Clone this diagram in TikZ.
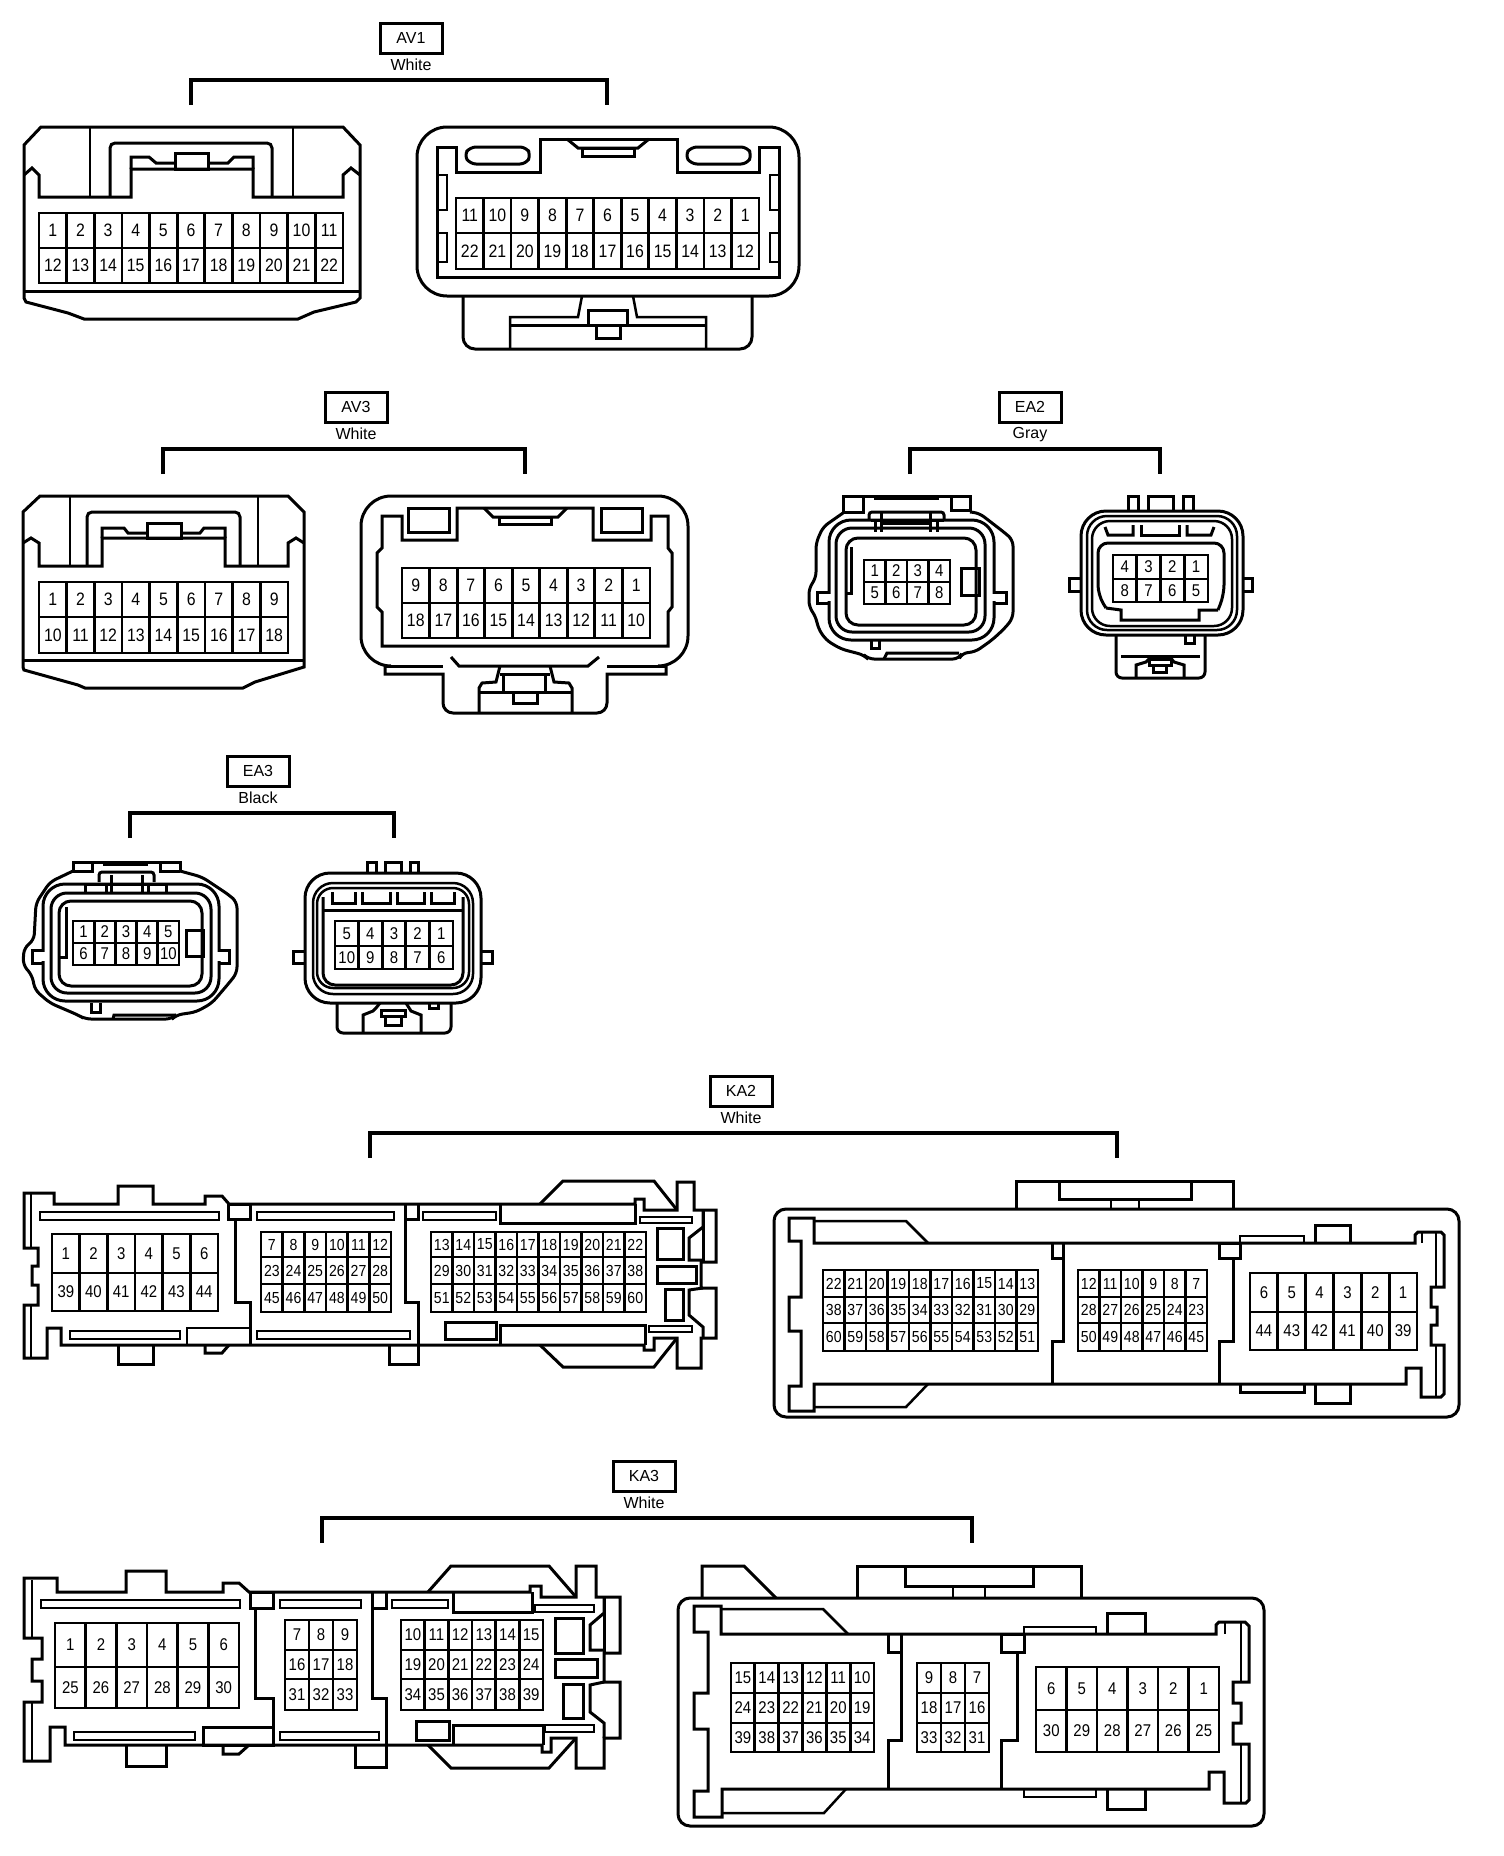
\documentclass[tikz,border=0pt]{standalone}
\usepackage{fontspec}
\setmainfont{Liberation Sans}
\newfontfamily\pinfont[FakeStretch=0.88]{Liberation Sans}
\usepackage{tikz}
\usetikzlibrary{positioning}

\tikzset{
  wall/.style={line width=3pt},
  thin wall/.style={line width=2.5pt},
  pinline/.style={line width=2.8pt},
  bracket/.style={line width=3.2pt},
  pin/.style={inner sep=0pt, font=\pinfont\fontsize{#1}{#1}\selectfont},
  pin/.default=18,
  tagbox/.style={draw, line width=3pt, minimum width=62pt, minimum height=30pt, inner sep=0pt, font=\fontsize{16}{16}\selectfont},
  tagtext/.style={inner sep=0pt, font=\fontsize{16}{16}\selectfont},
}

% name, x0, y0, x1, y1, cells, first number, step, font size
\newcommand{\pinrow}[9]{
  \draw[pinline] (#2,#3) rectangle (#4,#5);
  \pgfmathsetmacro{\cy}{(#3+#5)/2}
  \foreach \i in {1,...,#6} {
    \pgfmathsetmacro{\cx}{#2+(#4-#2)*(\i-0.5)/#6}
    \pgfmathsetmacro{\dx}{#2+(#4-#2)*\i/#6}
    \pgfmathtruncatemacro{\lab}{#7+(\i-1)*(#8)}
    \node[pin=#9] (#1-\lab) at (\cx,\cy) {\lab};
    \ifnum\i<#6 \draw[pinline] (\dx,#3) -- (\dx,#5);\fi
  }
}

% name, text, colour, centre x, box centre y, bracket left, bracket right
\newcommand{\conntag}[7]{
  \node[tagbox] (#1) at (#4,#5) {#2};
  \node[tagtext, below=4pt of #1] (#1c) {#3};
  \pgfmathsetmacro{\by}{#5+67}
  \coordinate (#1l) at (#6,\by);
  \coordinate (#1r) at (#7,\by);
  \draw[bracket] (#1l) -- ++(0,-25) -| (#1r);
}

\begin{document}
\begin{tikzpicture}[x=1pt, y=-1pt]

  \fill[white] (0,0) rectangle (1504,1856);
  \useasboundingbox (0,0) rectangle (1504,1856);

  % AV1
  \conntag{av1}{AV1}{White}{411}{38}{191}{607}

  \draw[wall] (41,127) -- (343,127) -- (360,145) -- (360,298) -- (356,302) -- (314,312) -- (298,319) -- (84,319) -- (68,313) -- (26,302) -- (24,298) -- (24,145) -- cycle;
  \draw[wall] (24,291) -- (360,291);
  \draw[wall] (24,175) -- (32,168) -- (39,175) -- (39,197) -- (131,197) -- (131,169) -- (253,169) -- (253,197) -- (343,197) -- (343,175) -- (351,168) -- (360,175);
  \draw[thin wall, rounded corners=3pt] (90,197) -- (90,127);
  \draw[thin wall] (293,197) -- (293,127);
  \draw[wall, rounded corners=5pt] (110,197) -- (110,143) -- (272,143) -- (272,197);
  \draw[wall] (131,169) -- (131,157) -- (149,157) -- (156,163) -- (175,163);
  \draw[wall] (208,163) -- (228,163) -- (234,157) -- (253,157) -- (253,169);
  \draw[wall] (175,153) rectangle (208,169);
  \pinrow{av1a}{39}{213}{343}{248}{11}{1}{1}{18}
  \pinrow{av1a}{39}{248}{343}{283}{11}{12}{1}{18}

  \draw[wall, rounded corners=30pt] (417,296) -- (417,127) -- (799,127) -- (799,296) -- cycle;
  \draw[wall, rounded corners=12pt] (463,296) -- (463,349) -- (752,349) -- (752,296);
  \draw[wall] (437,147) -- (456,147) -- (456,172) -- (540,172) -- (540,139) -- (677,139) -- (677,172) -- (759,172) -- (759,147) -- (779,147) -- (779,277) -- (437,277) -- cycle;
  \draw[thin wall] (437,175) -- (447,175) -- (447,210) -- (437,210);
  \draw[thin wall] (437,233) -- (447,233) -- (447,262) -- (437,262);
  \draw[thin wall] (779,175) -- (770,175) -- (770,210) -- (779,210);
  \draw[thin wall] (779,233) -- (770,233) -- (770,262) -- (779,262);
  \draw[wall, rounded corners=6pt] (470,147) -- (526,147) -- (531,155) -- (526,164) -- (470,164) -- (464,155) -- cycle;
  \draw[wall, rounded corners=6pt] (691,147) -- (747,147) -- (752,155) -- (747,164) -- (691,164) -- (685,155) -- cycle;
  \draw[wall] (567,139) -- (578,148) -- (638,148) -- (649,139);
  \draw[wall] (582,148) rectangle (634,156);
  \pinrow{av1b}{456}{198}{759}{233}{11}{11}{-1}{18}
  \pinrow{av1b}{456}{233}{759}{269}{11}{22}{-1}{18}
  \draw[thin wall] (582,296) -- (578,317) -- (510,317) -- (510,349);
  \draw[thin wall] (633,296) -- (637,317) -- (706,317) -- (706,349);
  \draw[wall] (510,325) -- (706,325);
  \draw[wall] (588,310) rectangle (627,325);
  \draw[wall] (596,325) rectangle (620,338);

  % AV3
  \conntag{av3}{AV3}{White}{356}{407}{163}{525}

  \draw[wall] (40,496) -- (288,496) -- (304,512) -- (304,667) -- (255,682) -- (243,688) -- (85,688) -- (78,685) -- (24,670) -- (23,667) -- (23,512) -- cycle;
  \draw[wall] (23,660) -- (304,660);
  \draw[wall] (23,543) -- (31,538) -- (39,543) -- (39,566) -- (102,566) -- (102,538) -- (225,538) -- (225,566) -- (288,566) -- (288,543) -- (296,538) -- (304,543);
  \draw[thin wall] (70,566) -- (70,496);
  \draw[thin wall] (258,566) -- (258,496);
  \draw[wall, rounded corners=5pt] (87,566) -- (87,512) -- (240,512) -- (240,566);
  \draw[wall] (102,538) -- (102,528) -- (124,528) -- (128,533) -- (147,533);
  \draw[wall] (181,533) -- (200,533) -- (204,528) -- (225,528) -- (225,538);
  \draw[wall] (147,523) rectangle (181,538);
  \pinrow{av3a}{39}{582}{288}{617}{9}{1}{1}{18}
  \pinrow{av3a}{39}{617}{288}{653}{9}{10}{1}{18}

  \draw[wall] (385,666) -- (385,674) -- (443,674) [rounded corners=10pt] -- (443,713) -- (607,713) [sharp corners] -- (607,674) -- (666,674) -- (666,666);
  \draw[wall, rounded corners=30pt] (385,666) -- (361,666) -- (361,496) -- (688,496) -- (688,666) -- (666,666);
  \draw[wall] (385,666) -- (443,666);
  \draw[wall] (607,666) -- (666,666);
  \draw[wall] (382,516) -- (402,516) -- (402,540) -- (457,540) -- (457,508) -- (593,508) -- (593,540) -- (651,540) -- (651,516) -- (668,516) -- (668,548) -- (672,553) -- (672,607) -- (668,612) -- (668,646) -- (382,646) -- (382,612) -- (377,607) -- (377,553) -- (382,548) -- cycle;
  \draw[wall] (408,508) rectangle (449,532);
  \draw[wall] (601,508) rectangle (642,532);
  \draw[wall] (484,508) -- (493,517) -- (558,517) -- (567,508);
  \draw[wall] (499,517) rectangle (551,524);
  \pinrow{av3b}{402}{568}{650}{603}{9}{9}{-1}{18}
  \pinrow{av3b}{402}{603}{650}{638}{9}{18}{-1}{18}
  \draw[wall] (451,657) -- (459,666) -- (588,666) -- (599,657);
  \draw[wall] (500,666) -- (496,682) -- (482,683) -- (479,688) -- (479,713);
  \draw[wall] (550,666) -- (554,682) -- (569,683) -- (572,688) -- (572,713);
  \draw[wall] (479,692) -- (572,692);
  \draw[wall] (503,674) -- (503,692);
  \draw[wall] (545,674) -- (545,692);
  \draw[wall] (500,674) -- (550,674);
  \draw[wall] (513,692) rectangle (537,703);

  % EA2
  \conntag{ea2}{EA2}{Gray}{1030}{407}{910}{1160}

  \draw[wall, rounded corners=6pt] (843,513) -- (823,527) -- (816,543) -- (816,578) -- (809,588) -- (809,607) -- (816,617) -- (818,628) -- (826,640) -- (841,649) -- (864,655) -- (868,659) -- (959,659) -- (962,653) -- (975,652) -- (992,640) -- (1005,628) -- (1013,618) -- (1013,540) -- (1005,533) -- (979,513) -- (970,512);
  \draw[wall] (843,513) -- (843,496) -- (970,496) -- (970,512);
  \draw[thin wall] (874,499) -- (939,499);
  \draw[wall] (843,512) -- (863,512) -- (863,496);
  \draw[wall] (951,496) -- (951,510) -- (970,510);
  \draw[wall, rounded corners=22pt] (829,520) rectangle (994,640);
  \fill[white] (826,594) rectangle (832,601);
  \fill[white] (991,594) rectangle (997,601);
  \draw[wall] (829,592) -- (817,592) -- (817,603) -- (829,603);
  \draw[wall] (994,592) -- (1006,592) -- (1006,603) -- (994,603);
  \draw[wall, rounded corners=16pt] (836,528) rectangle (985,632);
  \draw[wall, rounded corners=12pt] (846,538) rectangle (976,625);
  \draw[wall] (851,547) -- (851,593) -- (846,593);
  \draw[wall, rounded corners=3pt] (869,520) -- (869,512) -- (944,512) -- (944,520);
  \draw[wall] (875,522) -- (875,532);
  \draw[wall] (881,513) -- (881,532);
  \draw[wall] (930,513) -- (930,532);
  \draw[wall] (937,522) -- (937,532);
  \draw[wall] (871,520) -- (944,520);
  \draw[wall] (881,523) -- (930,523);
  \draw[wall] (871,641) -- (871,648) -- (879,648) -- (879,641);
  \draw[wall] (884,659) -- (887,653) -- (959,653);
  \draw[wall] (961,568) rectangle (979,595);
  \pinrow{ea2a}{864}{560}{950}{582}{4}{1}{1}{17}
  \pinrow{ea2a}{864}{582}{950}{604}{4}{5}{1}{17}

  \draw[wall] (1128,512) -- (1128,496) -- (1138,496) -- (1138,512);
  \draw[wall] (1148,512) -- (1148,496) -- (1173,496) -- (1173,512);
  \draw[wall] (1183,512) -- (1183,496) -- (1193,496) -- (1193,512);
  \draw[wall, rounded corners=25pt] (1081,511) rectangle (1243,635);
  \draw[wall] (1081,578) -- (1069,578) -- (1069,591) -- (1081,591);
  \draw[wall] (1243,578) -- (1252,578) -- (1252,591) -- (1243,591);
  \draw[thin wall, rounded corners=20pt] (1087,516) rectangle (1237,630);
  \draw[thin wall, rounded corners=18pt] (1092,521) rectangle (1232,626);
  \draw[wall] (1105,527) -- (1108,535) -- (1133,535) -- (1133,525);
  \draw[wall] (1141,525) -- (1141,535) -- (1179,535) -- (1179,525);
  \draw[wall] (1187,525) -- (1187,535) -- (1211,535) -- (1214,527);
  \draw[wall, rounded corners=10pt] (1106,608) -- (1098,595) -- (1098,543) -- (1224,543) -- (1224,595) -- (1218,610);
  \draw[wall] (1106,608) -- (1121,610) -- (1121,620) -- (1199,620) -- (1199,610) -- (1218,610);
  \pinrow{ea2b}{1113}{555}{1208}{579}{4}{4}{-1}{17}
  \pinrow{ea2b}{1113}{579}{1208}{602}{4}{8}{-1}{17}
  \draw[wall, rounded corners=6pt] (1116,635) -- (1116,678) -- (1205,678) -- (1205,635);
  \draw[wall] (1185,635) -- (1185,643) -- (1194,643) -- (1194,635);
  \draw[wall] (1121,656) -- (1200,656);
  \draw[wall] (1136,678) -- (1136,665) -- (1146,662) -- (1151,657);
  \draw[wall] (1170,657) -- (1174,662) -- (1184,665) -- (1184,678);
  \draw[wall] (1149,659) rectangle (1171,665);
  \draw[wall] (1153,665) rectangle (1166,672);

  % EA3
  \conntag{ea3}{EA3}{Black}{258}{771}{130}{394}

  \draw[wall, rounded corners=6pt] (73,871) -- (50,882) -- (36,903) -- (34,940) -- (24,948) -- (23,965) -- (32,975) -- (35,990) -- (50,1003) -- (78,1015) -- (85,1019) -- (172,1019) -- (176,1015) -- (196,1012) -- (212,1003) -- (229,983) -- (237,973) -- (237,902) -- (229,895) -- (202,877) -- (180,871);
  \draw[wall] (73,871) -- (73,862) -- (180,862) -- (180,871);
  \draw[thin wall] (103,865) -- (148,865);
  \draw[wall] (73,871) -- (92,871) -- (92,862);
  \draw[wall] (160,862) -- (160,871) -- (180,871);
  \draw[wall, rounded corners=22pt] (43,884) rectangle (219,1001);
  \fill[white] (40,952) rectangle (46,961);
  \fill[white] (216,952) rectangle (222,961);
  \draw[wall] (43,950) -- (32,950) -- (32,963) -- (43,963);
  \draw[wall] (219,950) -- (229,950) -- (229,963) -- (219,963);
  \draw[wall, rounded corners=16pt] (51,893) rectangle (211,993);
  \draw[wall, rounded corners=12pt] (59,901) rectangle (202,986);
  \draw[wall] (66,907) -- (66,957) -- (59,957);
  \draw[wall, rounded corners=3pt] (99,882) -- (99,872) -- (154,872) -- (154,882);
  \draw[wall] (111,875) -- (111,892);
  \draw[wall] (142,875) -- (142,892);
  \draw[wall] (85,892) -- (85,884) -- (166,884) -- (166,892);
  \draw[wall] (106,884) -- (106,892);
  \draw[wall] (148,884) -- (148,892);
  \draw[wall] (91,1003) -- (91,1012) -- (100,1012) -- (100,1003);
  \draw[wall] (113,1019) -- (114,1015) -- (176,1015);
  \draw[wall] (186,930) rectangle (203,956);
  \pinrow{ea3a}{73}{921}{179}{943}{5}{1}{1}{17}
  \pinrow{ea3a}{73}{943}{179}{965}{5}{6}{1}{17}

  \draw[wall] (367,873) -- (367,862) -- (376,862) -- (376,873);
  \draw[wall] (385,873) -- (385,862) -- (401,862) -- (401,873);
  \draw[wall] (410,873) -- (410,862) -- (418,862) -- (418,873);
  \draw[wall, rounded corners=25pt] (305,873) rectangle (481,1003);
  \draw[wall] (305,951) -- (293,951) -- (293,963) -- (305,963);
  \draw[wall] (481,951) -- (492,951) -- (492,963) -- (481,963);
  \draw[thin wall, rounded corners=20pt] (313,883) rectangle (473,994);
  \draw[thin wall, rounded corners=16pt] (317,888) rectangle (469,988);
  \draw[wall, rounded corners=12pt] (323,897) -- (323,985) -- (463,985) -- (463,897);
  \draw[wall] (323,910) -- (463,910);
  \draw[wall] (332,892) -- (332,903) -- (355,903) -- (355,892);
  \draw[wall] (362,892) -- (362,903) -- (390,903) -- (390,892);
  \draw[wall] (397,892) -- (397,903) -- (424,903) -- (424,892);
  \draw[wall] (431,892) -- (431,903) -- (454,903) -- (454,892);
  \pinrow{ea3b}{335}{921}{453}{946}{5}{5}{-1}{17}
  \pinrow{ea3b}{335}{946}{453}{969}{5}{10}{-1}{17}
  \draw[wall, rounded corners=6pt] (337,1003) -- (337,1033) -- (451,1033) -- (451,1003);
  \draw[wall] (363,1033) -- (363,1015) -- (373,1011) -- (376,1008) -- (380,1003);
  \draw[wall] (406,1003) -- (411,1011) -- (421,1015) -- (421,1033);
  \draw[wall] (381,1010) rectangle (405,1016);
  \draw[wall] (385,1016) rectangle (401,1025);
  \draw[wall] (429,1003) -- (429,1008) -- (438,1008) -- (438,1003);

  % KA2
  \conntag{ka2}{KA2}{White}{741}{1091}{370}{1117}

  \draw[wall] (54,1204) -- (118,1204) -- (118,1186) -- (153,1186) -- (153,1204) -- (205,1204) -- (205,1196) -- (222,1196) -- (229,1204) -- (635,1204) -- (635,1199) -- (644,1199) -- (644,1210) -- (677,1210) -- (677,1182) -- (694,1182) -- (694,1210) -- (716,1210) -- (716,1262) -- (701,1262) -- (701,1288) -- (716,1288) -- (716,1338) -- (701,1338) -- (701,1368) -- (677,1368) -- (677,1338) -- (654,1338) -- (654,1350) -- (644,1350) -- (644,1345) -- (61,1345) -- (61,1328) -- (47,1328) -- (47,1358) -- (24,1358) -- (24,1305) -- (38,1305) -- (38,1285) -- (32,1285) -- (32,1266) -- (38,1266) -- (38,1248) -- (24,1248) -- (24,1193) -- (54,1193) -- cycle;
  \draw[thin wall] (31,1193) -- (31,1248);
  \draw[thin wall] (31,1305) -- (31,1358);
  \draw[wall] (540,1204) -- (563,1181) -- (654,1181) -- (677,1210);
  \draw[wall] (540,1345) -- (563,1367) -- (654,1367) -- (677,1338);
  \draw[wall] (703,1210) -- (703,1227) -- (689,1238) -- (689,1260) -- (703,1260);
  \draw[wall] (703,1210) -- (703,1262);
  \draw[wall] (703,1288) -- (689,1290) -- (689,1315) -- (703,1327) -- (703,1338);
  \draw[wall] (118,1345) -- (118,1364) -- (153,1364) -- (153,1345);
  \draw[wall] (205,1345) -- (205,1353) -- (222,1353) -- (229,1345);
  \draw[wall] (389,1345) -- (389,1364) -- (418,1364) -- (418,1302) -- (405,1302) -- (405,1204);
  \draw[wall] (235,1219) -- (235,1302) -- (250,1302) -- (250,1345);
  \draw[wall] (228,1204) rectangle (250,1219);
  \draw[wall] (405,1219) -- (418,1219) -- (418,1204);
  \draw[thin wall] (40,1212) rectangle (219,1220);
  \draw[thin wall] (257,1212) rectangle (394,1220);
  \draw[thin wall] (423,1212) rectangle (496,1220);
  \draw[thin wall] (70,1331) rectangle (180,1339);
  \draw[thin wall] (257,1331) rectangle (410,1339);
  \draw[thin wall] (187,1328) rectangle (250,1345);
  \draw[wall] (500,1204) -- (500,1223) -- (635,1223) -- (635,1204);
  \draw[wall] (500,1345) -- (500,1325) -- (645,1325) -- (645,1345);
  \draw[wall] (445,1322) rectangle (496,1339);
  \draw[thin wall] (640,1217) rectangle (692,1223);
  \draw[thin wall] (649,1326) rectangle (692,1332);
  \draw[wall] (657,1228) rectangle (683,1259);
  \draw[wall] (657,1266) rectangle (696,1283);
  \draw[wall] (665,1289) rectangle (683,1320);
  \pinrow{ka2a}{52}{1234}{218}{1273}{6}{1}{1}{17}
  \pinrow{ka2a}{52}{1273}{218}{1311}{6}{39}{1}{17}
  \pinrow{ka2b}{261}{1232}{391}{1257}{6}{7}{1}{16}
  \pinrow{ka2b}{261}{1257}{391}{1284}{6}{23}{1}{16}
  \pinrow{ka2b}{261}{1284}{391}{1312}{6}{45}{1}{16}
  \pinrow{ka2c}{431}{1232}{646}{1257}{10}{13}{1}{16}
  \pinrow{ka2c}{431}{1257}{646}{1284}{10}{29}{1}{16}
  \pinrow{ka2c}{431}{1284}{646}{1312}{10}{51}{1}{16}

  \draw[wall, rounded corners=12pt] (774,1209) rectangle (1459,1417);
  \draw[wall] (1016,1209) -- (1016,1181) -- (1233,1181) -- (1233,1209);
  \draw[wall] (1059,1181) -- (1059,1199) -- (1191,1199) -- (1191,1181);
  \draw[thin wall] (1111,1199) -- (1111,1209);
  \draw[thin wall] (1139,1199) -- (1139,1209);
  \draw[wall] (789,1218) -- (814,1218) -- (814,1243) -- (1415,1243) -- (1415,1235) -- (1418,1232) -- (1441,1232) -- (1444,1235) -- (1444,1287) -- (1431,1287) -- (1431,1307) -- (1437,1307) -- (1437,1325) -- (1431,1325) -- (1431,1345) -- (1444,1345) -- (1444,1394) -- (1441,1397) -- (1421,1397) -- (1421,1368) -- (1406,1368) -- (1406,1384) -- (814,1384) -- (814,1411) -- (789,1411) -- (789,1386) -- (801,1386) -- (801,1331) -- (789,1331) -- (789,1297) -- (801,1297) -- (801,1241) -- (789,1241) -- cycle;
  \draw[thin wall] (1422,1232) -- (1422,1243);
  \draw[thin wall] (1436,1233) -- (1436,1287);
  \draw[thin wall] (1436,1345) -- (1436,1397);
  \draw[thin wall] (814,1221) -- (906,1221) -- (928,1243);
  \draw[thin wall] (814,1407) -- (906,1407) -- (928,1384);
  \draw[wall] (1063,1243) -- (1063,1341) -- (1052,1341) -- (1052,1384);
  \draw[wall] (1052,1243) -- (1052,1258) -- (1063,1258);
  \draw[wall] (1233,1258) -- (1233,1341) -- (1219,1341) -- (1219,1384);
  \draw[wall] (1219,1243) rectangle (1240,1258);
  \draw[thin wall] (1240,1243) -- (1240,1236) -- (1304,1236) -- (1304,1243);
  \draw[wall] (1315,1243) -- (1315,1225) -- (1350,1225) -- (1350,1243);
  \draw[wall] (1240,1384) -- (1240,1392) -- (1304,1392) -- (1304,1384);
  \draw[wall] (1315,1384) -- (1315,1403) -- (1350,1403) -- (1350,1384);
  \pinrow{ka2d}{823}{1270}{1038}{1297}{10}{22}{-1}{16}
  \pinrow{ka2d}{823}{1297}{1038}{1323}{10}{38}{-1}{16}
  \pinrow{ka2d}{823}{1323}{1038}{1351}{10}{60}{-1}{16}
  \pinrow{ka2e}{1078}{1270}{1207}{1297}{6}{12}{-1}{16}
  \pinrow{ka2e}{1078}{1297}{1207}{1323}{6}{28}{-1}{16}
  \pinrow{ka2e}{1078}{1323}{1207}{1351}{6}{50}{-1}{16}
  \pinrow{ka2f}{1250}{1273}{1417}{1312}{6}{6}{-1}{17}
  \pinrow{ka2f}{1250}{1312}{1417}{1350}{6}{44}{-1}{17}

  % KA3
  \conntag{ka3}{KA3}{White}{644}{1476}{322}{972}

  \draw[wall] (57,1592) -- (126,1592) -- (126,1571) -- (166,1571) -- (166,1592) -- (223,1592) -- (223,1583) -- (239,1583) -- (249,1592) -- (530,1592) -- (530,1586) -- (541,1586) -- (541,1597) -- (576,1597) -- (576,1566) -- (596,1566) -- (596,1597) -- (620,1597) -- (620,1653) -- (604,1653) -- (604,1682) -- (620,1682) -- (620,1738) -- (604,1738) -- (604,1768) -- (576,1768) -- (576,1738) -- (551,1738) -- (551,1752) -- (542,1752) -- (542,1745) -- (65,1745) -- (65,1727) -- (50,1727) -- (50,1761) -- (24,1761) -- (24,1702) -- (42,1702) -- (42,1681) -- (32,1681) -- (32,1659) -- (42,1659) -- (42,1638) -- (24,1638) -- (24,1578) -- (57,1578) -- cycle;
  \draw[thin wall] (32,1580) -- (32,1638);
  \draw[thin wall] (32,1702) -- (32,1761);
  \draw[wall] (428,1592) -- (451,1566) -- (549,1566) -- (576,1597);
  \draw[wall] (428,1745) -- (451,1768) -- (549,1768) -- (576,1738);
  \draw[wall] (604,1597) -- (604,1613) -- (590,1625) -- (590,1650) -- (604,1650);
  \draw[wall] (604,1597) -- (604,1653);
  \draw[wall] (604,1682) -- (590,1685) -- (590,1712) -- (604,1723) -- (604,1738);
  \draw[wall] (126,1745) -- (126,1766) -- (166,1766) -- (166,1745);
  \draw[wall] (223,1745) -- (223,1754) -- (239,1754) -- (249,1745);
  \draw[wall] (355,1745) -- (355,1767) -- (386,1767) -- (386,1698) -- (372,1698) -- (372,1592);
  \draw[wall] (255,1608) -- (255,1698) -- (273,1698) -- (273,1745);
  \draw[wall] (250,1592) rectangle (273,1608);
  \draw[wall] (372,1608) -- (386,1608) -- (386,1592);
  \draw[thin wall] (41,1600) rectangle (240,1608);
  \draw[thin wall] (280,1600) rectangle (361,1608);
  \draw[thin wall] (392,1600) rectangle (448,1608);
  \draw[thin wall] (74,1732) rectangle (195,1740);
  \draw[thin wall] (280,1732) rectangle (379,1740);
  \draw[wall] (203,1727) rectangle (273,1745);
  \draw[wall] (453,1592) -- (453,1612) -- (532,1612) -- (532,1592);
  \draw[wall] (453,1745) -- (453,1725) -- (543,1725) -- (543,1745);
  \draw[wall] (416,1721) rectangle (449,1740);
  \draw[thin wall] (535,1605) rectangle (594,1612);
  \draw[thin wall] (545,1725) rectangle (594,1732);
  \draw[wall] (555,1618) rectangle (583,1653);
  \draw[wall] (555,1659) rectangle (597,1677);
  \draw[wall] (563,1684) rectangle (583,1718);
  \pinrow{ka3a}{55}{1623}{239}{1667}{6}{1}{1}{17}
  \pinrow{ka3a}{55}{1667}{239}{1708}{6}{25}{1}{17}
  \pinrow{ka3b}{285}{1620}{357}{1650}{3}{7}{1}{17}
  \pinrow{ka3b}{285}{1650}{357}{1679}{3}{16}{1}{17}
  \pinrow{ka3b}{285}{1679}{357}{1710}{3}{31}{1}{17}
  \pinrow{ka3c}{401}{1620}{543}{1650}{6}{10}{1}{17}
  \pinrow{ka3c}{401}{1650}{543}{1679}{6}{19}{1}{17}
  \pinrow{ka3c}{401}{1679}{543}{1710}{6}{34}{1}{17}

  \draw[wall, rounded corners=12pt] (678,1598) rectangle (1264,1826);
  \draw[wall] (857,1598) -- (857,1566) -- (1081,1566) -- (1081,1598);
  \draw[wall] (905,1566) -- (905,1586) -- (1033,1586) -- (1033,1566);
  \draw[thin wall] (953,1586) -- (953,1598);
  \draw[thin wall] (985,1586) -- (985,1598);
  \draw[wall] (702,1598) -- (702,1566) -- (744,1566) -- (776,1598);
  \draw[wall] (694,1606) -- (721,1606) -- (721,1634) -- (1216,1634) -- (1216,1625) -- (1219,1622) -- (1245,1622) -- (1249,1626) -- (1249,1682) -- (1233,1682) -- (1233,1703) -- (1241,1703) -- (1241,1723) -- (1233,1723) -- (1233,1744) -- (1249,1744) -- (1249,1800) -- (1246,1803) -- (1224,1803) -- (1224,1772) -- (1209,1772) -- (1209,1789) -- (722,1789) -- (722,1817) -- (694,1817) -- (694,1791) -- (708,1791) -- (708,1729) -- (694,1729) -- (694,1693) -- (708,1693) -- (708,1632) -- (694,1632) -- cycle;
  \draw[thin wall] (1241,1623) -- (1241,1682);
  \draw[thin wall] (1241,1744) -- (1241,1803);
  \draw[thin wall] (1225,1622) -- (1225,1634);
  \draw[thin wall] (721,1609) -- (823,1609) -- (848,1634);
  \draw[thin wall] (722,1813) -- (824,1813) -- (846,1789);
  \draw[wall] (901,1634) -- (901,1740) -- (888,1740) -- (888,1789);
  \draw[wall] (888,1634) -- (888,1652) -- (901,1652);
  \draw[wall] (1017,1652) -- (1017,1740) -- (1001,1740) -- (1001,1789);
  \draw[wall] (1001,1634) rectangle (1024,1652);
  \draw[thin wall] (1024,1634) -- (1024,1627) -- (1096,1627) -- (1096,1634);
  \draw[wall] (1107,1634) -- (1107,1613) -- (1145,1613) -- (1145,1634);
  \draw[thin wall] (1024,1789) -- (1024,1797) -- (1096,1797) -- (1096,1789);
  \draw[wall] (1107,1789) -- (1107,1809) -- (1145,1809) -- (1145,1789);
  \pinrow{ka3d}{731}{1663}{874}{1693}{6}{15}{-1}{17}
  \pinrow{ka3d}{731}{1693}{874}{1723}{6}{24}{-1}{17}
  \pinrow{ka3d}{731}{1723}{874}{1752}{6}{39}{-1}{17}
  \pinrow{ka3e}{917}{1663}{989}{1693}{3}{9}{-1}{17}
  \pinrow{ka3e}{917}{1693}{989}{1723}{3}{18}{-1}{17}
  \pinrow{ka3e}{917}{1723}{989}{1752}{3}{33}{-1}{17}
  \pinrow{ka3f}{1036}{1667}{1219}{1710}{6}{6}{-1}{17}
  \pinrow{ka3f}{1036}{1710}{1219}{1752}{6}{30}{-1}{17}

\end{tikzpicture}
\end{document}
